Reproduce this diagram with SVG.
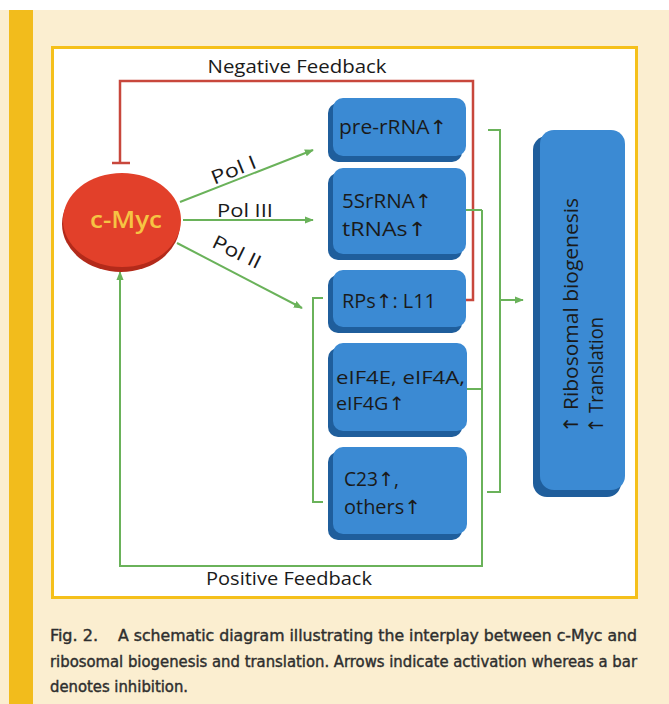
<svg xmlns="http://www.w3.org/2000/svg" width="669" height="704" viewBox="0 0 669 704">
<style>
.lbl{font-family:"Open Sans","Noto Sans","DejaVu Sans",sans-serif;fill:#1a1a1a}
.box-d{fill:#1f5e9c}
.box-f{fill:#3b8ad3}
.g{stroke:#6ab25a;stroke-width:2;fill:none}
.r{stroke:#c8473c;stroke-width:2.5;fill:none}
.cap{font-family:"DejaVu Sans Condensed","DejaVu Sans",sans-serif;font-size:16px;fill:#2e2e2e;stroke:#2e2e2e;stroke-width:0.4}
</style>
<defs>
<marker id="ah" viewBox="0 0 10 10" refX="9" refY="5" markerWidth="9" markerHeight="9" markerUnits="userSpaceOnUse" orient="auto">
<path d="M0,1 L10,5 L0,9 Z" fill="#6ab25a"/>
</marker>
</defs>
<rect x="0" y="0" width="669" height="704" fill="#ffffff"/>
<rect x="0" y="10" width="669" height="694" fill="#fbeed0"/>
<rect x="9" y="10" width="24" height="694" fill="#f2bc1c"/>
<rect x="52.5" y="47.5" width="584" height="550" fill="#ffffff" stroke="#f5c01a" stroke-width="3"/>

<g id="connectors">
  <polyline class="r" points="465,300 473,300 473,81 120,81 120,163"/>
  <line class="r" x1="112" y1="163" x2="130" y2="163"/>
  <line class="g" x1="180" y1="202" x2="313" y2="150" marker-end="url(#ah)"/>
  <line class="g" x1="183" y1="220" x2="313" y2="220" marker-end="url(#ah)"/>
  <line class="g" x1="177" y1="243" x2="302" y2="308" marker-end="url(#ah)"/>
  <polyline class="g" points="323,298 313,298 313,502 323,502"/>
  <line class="g" x1="465" y1="210" x2="482" y2="210"/>
  <line class="g" x1="467" y1="389" x2="482" y2="389"/>
  <polyline class="g" points="482,210 482,566 120,566 120,272" marker-end="url(#ah)"/>
  <polyline class="g" points="488,130 500,130 500,492 487,492"/>
  <line class="g" x1="500" y1="300" x2="523" y2="300" marker-end="url(#ah)"/>
</g>

<text class="lbl" x="297" y="73" font-size="18" text-anchor="middle" textLength="179" lengthAdjust="spacingAndGlyphs">Negative Feedback</text>
<text class="lbl" x="289" y="585" font-size="18" text-anchor="middle" textLength="166" lengthAdjust="spacingAndGlyphs">Positive Feedback</text>
<text class="lbl" font-size="19" text-anchor="middle" transform="translate(236,176) rotate(-22)" textLength="47" lengthAdjust="spacingAndGlyphs">Pol I</text>
<text class="lbl" font-size="19" x="245" y="217" text-anchor="middle" textLength="56" lengthAdjust="spacingAndGlyphs">Pol III</text>
<text class="lbl" font-size="19" text-anchor="middle" transform="translate(234,258) rotate(26)" textLength="52" lengthAdjust="spacingAndGlyphs">Pol II</text>

<g id="cmyc">
  <ellipse cx="121" cy="224" rx="59" ry="48" fill="#b32a1a"/>
  <ellipse cx="122" cy="220" rx="59" ry="47" fill="#e2402a"/>
  <text x="126" y="228" font-family="Open Sans,Noto Sans,sans-serif" font-size="24" font-weight="600" fill="#f6c443" text-anchor="middle" textLength="72" lengthAdjust="spacingAndGlyphs">c-Myc</text>
</g>

<g id="pre-rRNA">
  <rect class="box-d" x="328" y="103" width="134" height="59" rx="10"/>
  <rect class="box-f" x="333" y="98" width="133" height="58" rx="10"/>
  <text class="lbl" x="339" y="134" font-size="19.5" textLength="108" lengthAdjust="spacingAndGlyphs">pre-rRNA↑</text>
</g>
<g id="5SrRNA">
  <rect class="box-d" x="328" y="173" width="134" height="87" rx="10"/>
  <rect class="box-f" x="333" y="168" width="133" height="86" rx="10"/>
  <text class="lbl" x="342" y="208" font-size="19.5" textLength="90" lengthAdjust="spacingAndGlyphs">5SrRNA↑</text>
  <text class="lbl" x="342" y="236" font-size="19.5" textLength="85" lengthAdjust="spacingAndGlyphs">tRNAs↑</text>
</g>
<g id="RPs">
  <rect class="box-d" x="328" y="275" width="134" height="58" rx="10"/>
  <rect class="box-f" x="333" y="270" width="133" height="57" rx="10"/>
  <text class="lbl" x="342" y="308" font-size="19.5" textLength="94" lengthAdjust="spacingAndGlyphs">RPs↑: L11</text>
</g>
<g id="eIF4">
  <rect class="box-d" x="328" y="348" width="134" height="89" rx="10"/>
  <rect class="box-f" x="333" y="343" width="134" height="88" rx="10"/>
  <text class="lbl" x="336" y="384" font-size="18.5" textLength="129" lengthAdjust="spacingAndGlyphs">eIF4E, eIF4A,</text>
  <text class="lbl" x="336" y="410" font-size="18.5" textLength="69" lengthAdjust="spacingAndGlyphs">eIF4G↑</text>
</g>
<g id="C23">
  <rect class="box-d" x="328" y="452" width="134" height="88" rx="10"/>
  <rect class="box-f" x="333" y="447" width="134" height="87" rx="10"/>
  <text class="lbl" x="344" y="486" font-size="19.5" textLength="55" lengthAdjust="spacingAndGlyphs">C23↑,</text>
  <text class="lbl" x="344" y="514" font-size="19.5" textLength="77" lengthAdjust="spacingAndGlyphs">others↑</text>
</g>
<g id="outcome">
  <rect class="box-d" x="533" y="136" width="88" height="361" rx="14"/>
  <rect class="box-f" x="540" y="130" width="85" height="360" rx="14"/>
  <text class="lbl" font-size="20" transform="translate(578,433) rotate(-90)" textLength="235" lengthAdjust="spacingAndGlyphs">↑ Ribosomal biogenesis</text>
  <text class="lbl" font-size="20" transform="translate(603,433) rotate(-90)" textLength="116" lengthAdjust="spacingAndGlyphs">↑ Translation</text>
</g>

<g id="caption">
  <text class="cap" x="50" y="641" textLength="48" lengthAdjust="spacingAndGlyphs">Fig. 2.</text>
  <text class="cap" x="118" y="641" textLength="519" lengthAdjust="spacingAndGlyphs">A schematic diagram illustrating the interplay between c-Myc and</text>
  <text class="cap" x="50" y="667" textLength="587" lengthAdjust="spacingAndGlyphs">ribosomal biogenesis and translation. Arrows indicate activation whereas a bar</text>
  <text class="cap" x="50" y="692" textLength="138" lengthAdjust="spacingAndGlyphs">denotes inhibition.</text>
</g>
</svg>
